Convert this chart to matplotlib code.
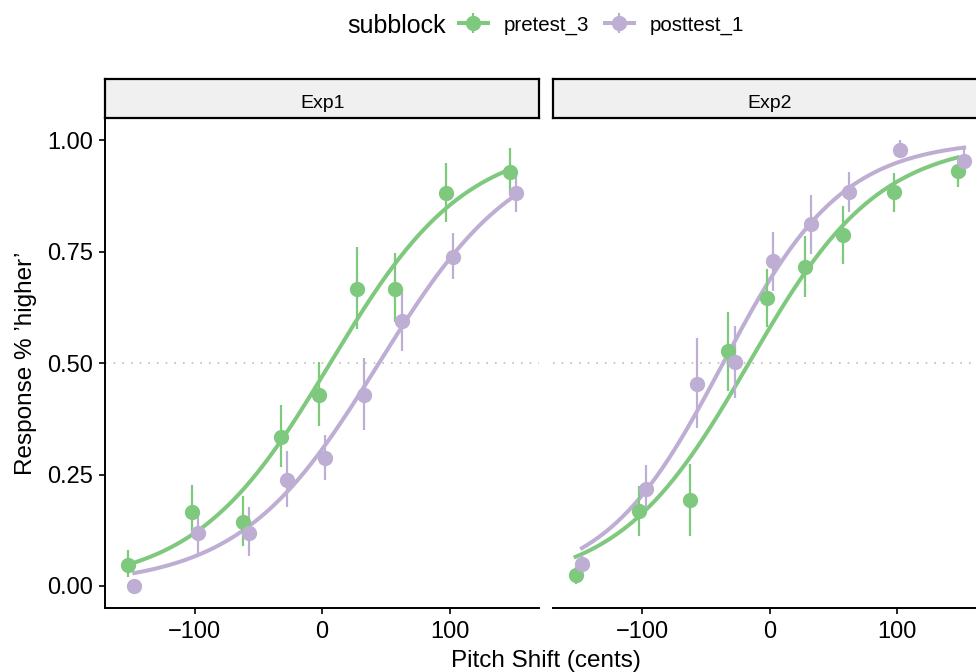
import numpy as np
import matplotlib
matplotlib.use("Agg")
import matplotlib.pyplot as plt
from matplotlib.legend_handler import HandlerTuple

plt.rcParams['font.family'] = ['Liberation Sans', 'DejaVu Sans']

# pitch shift steps (cents)
shift = np.array([-150, -100, -60, -30, 0, 30, 60, 100, 150])
dodge = 2.5

groups = ['pretest_3', 'posttest_1']
colors = {'pretest_3': '#7fc97f', 'posttest_1': '#beaed4'}

# proportion of 'higher' responses, with error-bar limits
exp1_pre = [0.048, 0.167, 0.143, 0.333, 0.429, 0.667, 0.667, 0.881, 0.929]
exp1_pre_lo = [0.020, 0.112, 0.090, 0.267, 0.359, 0.576, 0.592, 0.817, 0.879]
exp1_pre_hi = [0.081, 0.226, 0.202, 0.406, 0.502, 0.761, 0.747, 0.948, 0.982]

exp1_post = [0.000, 0.119, 0.119, 0.238, 0.286, 0.429, 0.595, 0.738, 0.881]
exp1_post_lo = [0.000, 0.067, 0.067, 0.177, 0.238, 0.350, 0.526, 0.688, 0.839]
exp1_post_hi = [0.000, 0.161, 0.177, 0.303, 0.339, 0.511, 0.664, 0.791, 0.920]

exp2_pre = [0.025, 0.169, 0.193, 0.527, 0.645, 0.716, 0.788, 0.883, 0.930]
exp2_pre_lo = [0.004, 0.113, 0.111, 0.438, 0.581, 0.649, 0.722, 0.839, 0.894]
exp2_pre_hi = [0.043, 0.225, 0.274, 0.615, 0.711, 0.784, 0.853, 0.926, 0.946]

exp2_post = [0.050, 0.217, 0.454, 0.503, 0.728, 0.811, 0.884, 0.978, 0.954]
exp2_post_lo = [0.030, 0.173, 0.354, 0.421, 0.662, 0.744, 0.839, 0.965, 0.920]
exp2_post_hi = [0.070, 0.272, 0.556, 0.584, 0.794, 0.877, 0.928, 1.000, 0.986]

panels = {
    'Exp1': {'pretest_3': (exp1_pre, exp1_pre_lo, exp1_pre_hi),
             'posttest_1': (exp1_post, exp1_post_lo, exp1_post_hi)},
    'Exp2': {'pretest_3': (exp2_pre, exp2_pre_lo, exp2_pre_hi),
             'posttest_1': (exp2_post, exp2_post_lo, exp2_post_hi)},
}


def logistic_fit(x, p, n_iter=50):
    # binomial glm (logit link) on proportions, IRLS
    X = np.column_stack([np.ones_like(x), x])
    b = np.zeros(2)
    for _ in range(n_iter):
        eta = X @ b
        mu = 1 / (1 + np.exp(-eta))
        w = np.clip(mu * (1 - mu), 1e-6, None)
        z = eta + (p - mu) / w
        b = np.linalg.solve(X.T @ (w[:, None] * X), X.T @ (w * z))
    return b


fig = plt.figure(figsize=(9.76, 6.72), dpi=100)
W, H = 976, 672


def fbox(x0, y0, x1, y1):
    return [x0 / W, 1 - y1 / H, (x1 - x0) / W, (y1 - y0) / H]


xlim = (-170.5, 170.5)
ylim = (-0.05, 1.05)
lefts = [105, 552.7]
pw = 434.3

handles = {}
for i, (name, data) in enumerate(panels.items()):
    x0 = lefts[i]
    ax = fig.add_axes(fbox(x0, 117.7, x0 + pw, 608.3))
    ax.set_xlim(*xlim)
    ax.set_ylim(*ylim)
    ax.axhline(0.5, color='#bdbdbd', lw=1.2, ls=(0, (1, 4.2)), zorder=1)
    for k, g in enumerate(groups):
        y, lo, hi = (np.array(v) for v in data[g])
        xs = shift + (-dodge if k == 0 else dodge)
        b = logistic_fit(xs.astype(float), y)
        xx = np.linspace(xs.min(), xs.max(), 200)
        yy = 1 / (1 + np.exp(-(b[0] + b[1] * xx)))
        ln, = ax.plot(xx, yy, color=colors[g], lw=2.9, zorder=2)
        eb = ax.errorbar(xs, y, yerr=[y - lo, hi - y], fmt='o', color=colors[g],
                         ms=10, elinewidth=1.6, capsize=0, zorder=3)
        handles[g] = (ln, eb)
    for s in ['top', 'right']:
        ax.spines[s].set_visible(False)
    ax.spines['bottom'].set_linewidth(1.4)
    ax.spines['left'].set_linewidth(1.4)
    ax.set_xticks([-100, 0, 100])
    ax.set_xticklabels(['\u2212100', '0', '100'])
    ax.set_yticks([0, 0.25, 0.5, 0.75, 1.0])
    ax.set_yticklabels(['0.00', '0.25', '0.50', '0.75', '1.00'])
    ax.tick_params(labelsize=17, length=4.3, width=1.2, colors='black', pad=4.5)
    if i == 1:
        ax.spines['left'].set_visible(False)
        ax.tick_params(axis='y', left=False, labelleft=False)
    else:
        ax.set_ylabel("Response % \u2019higher\u2019", fontsize=17.5, labelpad=7)

    # facet strip
    sax = fig.add_axes(fbox(x0, 79.3, x0 + pw, 117.7))
    sax.set_facecolor('#f0f0f0')
    sax.set_xticks([])
    sax.set_yticks([])
    for s in sax.spines.values():
        s.set_linewidth(1.6)
    fig.text((x0 + pw / 2) / W, 1 - 108.3 / H, name, ha='center', va='baseline',
             fontsize=14)

fig.text((105 + 986) / 2 / W, 1 - 666.7 / H, 'Pitch Shift (cents)', ha='center',
         va='baseline', fontsize=17.5)

fig.text(347 / W, 1 - 33.3 / H, 'subblock', ha='left', va='baseline', fontsize=18)
fig.legend([handles[g] for g in groups], groups,
           handler_map={tuple: HandlerTuple(ndivide=1)},
           loc='center left', bbox_to_anchor=(459 / W, 1 - 25 / H),
           ncol=2, frameon=False, fontsize=14.8, handlelength=1.4,
           handletextpad=0.75, columnspacing=0.8, borderaxespad=0,
           borderpad=0)

fig.savefig('out.png', dpi=100)
